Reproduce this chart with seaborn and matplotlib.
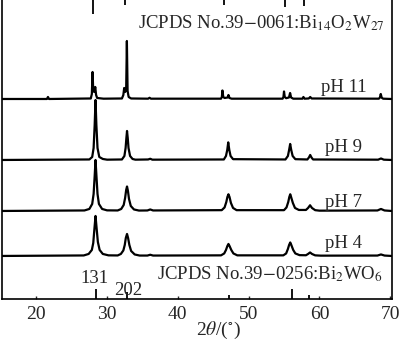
import matplotlib
matplotlib.use("Agg")
import matplotlib.pyplot as plt
import seaborn as sns
import pandas as pd

# ---------------- data ----------------
samples = ["pH 4", "pH 7", "pH 9", "pH 11"]

ph4_2theta = [15.1, 26.7, 27.4, 27.85, 28.05, 28.2, 28.37, 28.52, 28.7, 28.95, 29.4, 30.2,
              31.5, 31.95, 32.3, 32.5, 32.65, 32.82, 32.97, 33.15, 33.4, 33.9, 34.6,
              35.7, 36.1, 36.5, 46.1, 46.55, 46.8, 47.0, 47.15, 47.3, 47.55, 47.85, 48.4,
              54.9, 55.3, 55.55, 55.72, 55.88, 56.03, 56.3, 56.6, 57.2,
              58.1, 58.4, 58.68, 58.95, 59.4, 60.2, 68.2, 68.7, 69.2, 70.2]
ph4_int = [0, 0.5, 2, 6, 13, 26, 40, 28, 14, 6, 2, 0.6,
           0.5, 2, 5.5, 11, 18, 22, 18, 11, 5, 1.5, 0.4,
           0.4, 1.2, 0.4, 0.6, 2.5, 6, 10, 12, 10, 6, 2.5, 0.6,
           0.6, 2.5, 7, 11, 13.5, 11, 6, 2.5, 0.8,
           0.7, 2, 3.5, 2, 0.6, 0.3, 0.4, 1.5, 0.4, 0]

ph7_2theta = [15.1, 26.8, 27.5, 27.9, 28.1, 28.25, 28.37, 28.5, 28.65, 28.85, 29.3, 30.0,
              31.5, 32.0, 32.35, 32.55, 32.7, 32.82, 32.95, 33.1, 33.35, 33.8, 34.5,
              35.7, 36.1, 36.5, 46.2, 46.6, 46.85, 47.0, 47.15, 47.3, 47.5, 47.8, 48.3,
              55.0, 55.35, 55.6, 55.75, 55.88, 56.0, 56.25, 56.55, 57.1,
              58.1, 58.4, 58.68, 58.95, 59.4, 60.0, 68.2, 68.7, 69.2, 70.2]
ph7_int = [0, 0.5, 2, 7, 17, 35, 51, 35, 17, 7, 2, 0.6,
           0.5, 2, 6, 13, 21, 24.5, 20, 12, 5, 1.5, 0.4,
           0.5, 1.5, 0.5, 0.8, 3.5, 9, 14, 16.7, 14, 8, 3, 0.8,
           0.8, 3.5, 9, 14, 16.7, 14, 8, 3, 1,
           1, 3, 5.7, 3, 0.8, 0.3, 0.5, 2, 0.5, 0]

ph9_2theta = [15.1, 27.5, 27.9, 28.1, 28.25, 28.37, 28.49, 28.65, 28.9, 29.4, 30.0,
              32.1, 32.45, 32.62, 32.73, 32.82, 32.92, 33.03, 33.25, 33.6, 34.0,
              35.8, 36.1, 36.4, 46.5, 46.8, 46.98, 47.12, 47.27, 47.45, 47.8,
              55.2, 55.55, 55.72, 55.87, 56.02, 56.22, 56.6,
              58.3, 58.52, 58.7, 58.88, 59.1, 68.3, 68.7, 69.1, 70.2]
ph9_int = [0, 0.5, 3, 12, 35, 60, 35, 12, 3, 1, 0.3,
           0.5, 4, 12, 22, 29, 22, 12, 4, 1, 0.3,
           0.5, 1.2, 0.3, 0.5, 4, 10, 17.6, 10, 4, 0.8,
           0.5, 4, 10, 16, 10, 4, 0.8,
           0.5, 2.5, 5, 2.5, 0.5, 0.3, 1.5, 0.3, 0]

ph11_2theta = [15.1, 21.5, 21.65, 21.8, 27.7, 27.85, 27.95, 28.05, 28.2, 28.33, 28.45, 28.6, 29.5,
               32.1, 32.3, 32.42, 32.55, 32.7, 32.8, 32.9, 33.05, 33.4, 35.8, 36.0, 36.2,
               46.1, 46.22, 46.3, 46.42, 46.6, 47.05, 47.15, 47.3, 47.6,
               54.8, 54.92, 55.0, 55.1, 55.3, 55.7, 55.86, 56.0, 56.3,
               57.6, 57.74, 57.9, 58.5, 58.7, 58.9, 68.4, 68.55, 68.67, 68.8, 69.0, 70.2]
ph11_int = [0, 0, 2, 0, 0.5, 5, 27, 8, 7, 12, 4, 1, 0.3,
            0.5, 4, 11, 7, 10, 58, 8, 2, 0.5, 0.3, 1.2, 0.3,
            0.3, 2, 8.5, 2, 1, 1.5, 4, 1, 0.3,
            0.3, 2, 7.5, 2, 0.8, 1.5, 6, 1.5, 0.3,
            0.3, 2, 0.3, 0.5, 2, 0.5, 0.3, 1.5, 5, 1.3, 0.3, 0]

# JCPDS reference lines
bi14_pos = [28.0, 32.47, 46.54, 55.15, 57.88]
bi14_int = [14, 5, 5, 7, 6]
bi2wo6_pos = [28.43, 32.8, 47.29, 56.1, 58.59]
bi2wo6_int = [10, 7, 4, 10, 4]

xticks = [20, 30, 40, 50, 60, 70]
xlabel = r"2$\theta$/($^{\circ}$)"
top_ref_label = r"JCPDS No.39$-$0061:Bi$_{14}$O$_{2}$W$_{27}$"
bot_ref_label = r"JCPDS No.39$-$0256:Bi$_{2}$WO$_{6}$"
hkl_labels = ["131", "202"]

# ---------------- build frame ----------------
series = {"pH 4": (ph4_2theta, ph4_int), "pH 7": (ph7_2theta, ph7_int),
          "pH 9": (ph9_2theta, ph9_int), "pH 11": (ph11_2theta, ph11_int)}
offsets = {"pH 4": 43, "pH 7": 88, "pH 9": 139, "pH 11": 200}
rows = []
for s in samples:
    xs, ys = series[s]
    for x, y in zip(xs, ys):
        rows.append({"two_theta": x, "intensity": y + offsets[s], "sample": s})
df = pd.DataFrame(rows)

# ---------------- plot ----------------
sns.set_theme(style="white")
plt.rcParams["font.family"] = ["Liberation Serif", "DejaVu Serif"]
plt.rcParams["mathtext.fontset"] = "stix"

fig = plt.figure(figsize=(4.0, 3.46), dpi=100)
ax = fig.add_axes([0.004, 0.136, 0.975, 0.864])

sns.lineplot(data=df, x="two_theta", y="intensity", hue="sample", units="sample",
             estimator=None, sort=False, palette={s: "black" for s in samples},
             legend=False, linewidth=1.6, ax=ax)

ax.set_xlim(15.1, 70.2)
ax.set_ylim(0, 299)

# reference sticks
ax.vlines(bi14_pos, [299 - v for v in bi14_int], 299, colors="black", linewidth=1.3)
ax.vlines(bi2wo6_pos, 0, bi2wo6_int, colors="black", linewidth=1.3)

ax.set_xticks(xticks)
ax.set_xticklabels([str(t) for t in xticks], fontsize=14)
ax.set_yticks([])
ax.tick_params(axis="x", direction="in", length=2.5, width=1.0, pad=5, bottom=True, top=False)
ax.set_xlabel(xlabel, fontsize=14)
ax.xaxis.set_label_coords(0.555, -0.07)
ax.set_ylabel("")

for sp in ["left", "right", "bottom"]:
    ax.spines[sp].set_visible(True)
    ax.spines[sp].set_color("black")
    ax.spines[sp].set_linewidth(1.2)
ax.spines["top"].set_visible(False)

# texts
ax.text(34.4, 271, top_ref_label, fontsize=13.5, ha="left", va="baseline")
ax.text(37.1, 20, bot_ref_label, fontsize=13.5, ha="left", va="baseline")
ax.text(28.28, 16.3, hkl_labels[0], fontsize=13.5, ha="center", va="baseline")
ax.text(33.0, 4, hkl_labels[1], fontsize=13.5, ha="center", va="baseline")
label_x = {"pH 11": 60.2, "pH 9": 60.8, "pH 7": 60.8, "pH 4": 60.8}
label_y = {"pH 11": 207.3, "pH 9": 147.3, "pH 7": 92.3, "pH 4": 50.7}
for s in samples:
    ax.text(label_x[s], label_y[s], s, fontsize=13.5, ha="left", va="baseline")

fig.savefig("out.png", dpi=100)
